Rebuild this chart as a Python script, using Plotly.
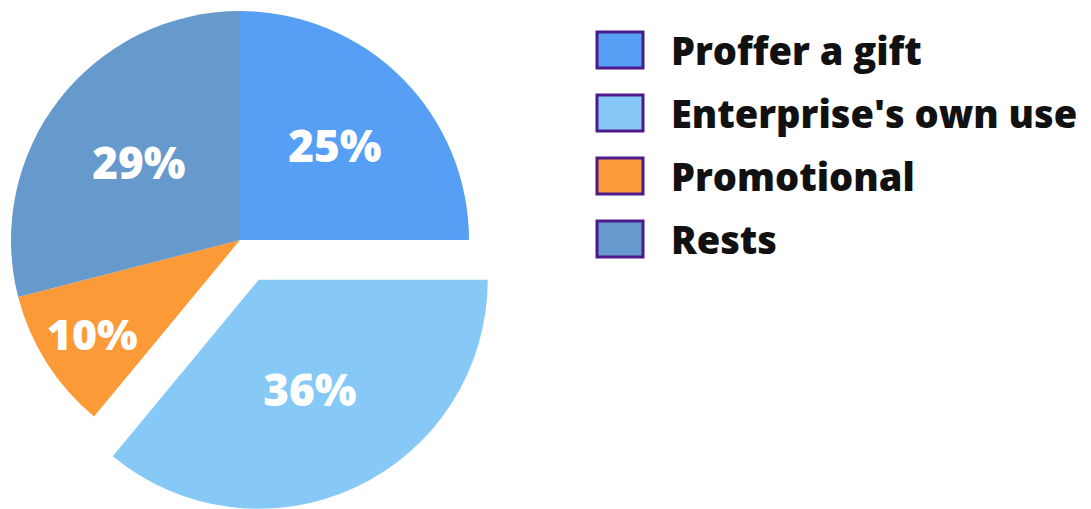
import math
import plotly.graph_objects as go

# Share of usage by purpose (percent)
labels = ["Proffer a gift", "Enterprise's own use", "Promotional", "Rests"]
values = [25, 36, 10, 29]
colors = ["#579ff4", "#86c9f7", "#fb9a36", "#6699cc"]
pulled = "Enterprise's own use"

W, H = 1091, 509
CX, CY, R = 240, 240, 229      # pie centre / radius in px
PULL_PX = 44                   # how far the highlighted slice is pushed out
FONT = "Open Sans"
TRANSPARENT = "rgba(0,0,0,0)"


def domain_for(cx, cy, r):
    return dict(
        x=[max(0, (cx - r) / W), min(1, (cx + r) / W)],
        y=[max(0, (H - (cy + r)) / H), min(1, (H - (cy - r)) / H)],
    )


# mid-angle of the pulled slice (clockwise from 12 o'clock)
total = sum(values)
k = labels.index(pulled)
start = sum(values[:k]) / total * 360
mid = math.radians(start + values[k] / total * 360 / 2)
dx = PULL_PX * math.sin(mid)
dy = PULL_PX * math.cos(mid)   # screen y grows downwards
cx2, cy2 = CX + dx, CY - dy

is_pulled = [lab == pulled for lab in labels]

common = dict(
    labels=labels,
    values=values,
    sort=False,
    direction="clockwise",
    rotation=0,
    textinfo="percent",
    insidetextorientation="horizontal",
    textfont=dict(family=FONT, size=44, color="white", weight=800),
    hoverinfo="label+percent",
    showlegend=False,
)

fig = go.Figure()
# main pie, with the pulled slice left empty
fig.add_trace(go.Pie(
    **common,
    marker=dict(colors=[TRANSPARENT if p else c for c, p in zip(colors, is_pulled)],
                line=dict(width=0)),
    textposition=["none" if p else "inside" for p in is_pulled],
    domain=domain_for(CX, CY, R),
))
# the pushed-out slice
fig.add_trace(go.Pie(
    **common,
    marker=dict(colors=[c if p else TRANSPARENT for c, p in zip(colors, is_pulled)],
                line=dict(width=0)),
    textposition=["inside" if p else "none" for p in is_pulled],
    domain=domain_for(cx2, cy2, R),
))

# legend: framed swatches with bold labels
LEG_X0, LEG_Y0, SW_W, SW_H, STEP = 597, 32, 46, 36, 63
shapes, annotations = [], []
for i, (lab, col) in enumerate(zip(labels, colors)):
    y0 = LEG_Y0 + i * STEP
    shapes.append(dict(
        type="rect", xref="paper", yref="paper",
        x0=LEG_X0 / W, x1=(LEG_X0 + SW_W) / W,
        y0=1 - y0 / H, y1=1 - (y0 + SW_H) / H,
        fillcolor=col, line=dict(color="#4c1a8c", width=3),
    ))
    annotations.append(dict(
        text=lab, xref="paper", yref="paper",
        x=(LEG_X0 + SW_W + 26) / W, y=1 - (y0 + SW_H / 2) / H,
        xanchor="left", yanchor="middle", showarrow=False,
        font=dict(family=FONT, size=38, color="#111111", weight=800),
    ))

fig.update_layout(
    width=W, height=H,
    margin=dict(l=0, r=0, t=0, b=0),
    paper_bgcolor="white",
    plot_bgcolor="white",
    shapes=shapes,
    annotations=annotations,
)

fig.write_html("out.html")
